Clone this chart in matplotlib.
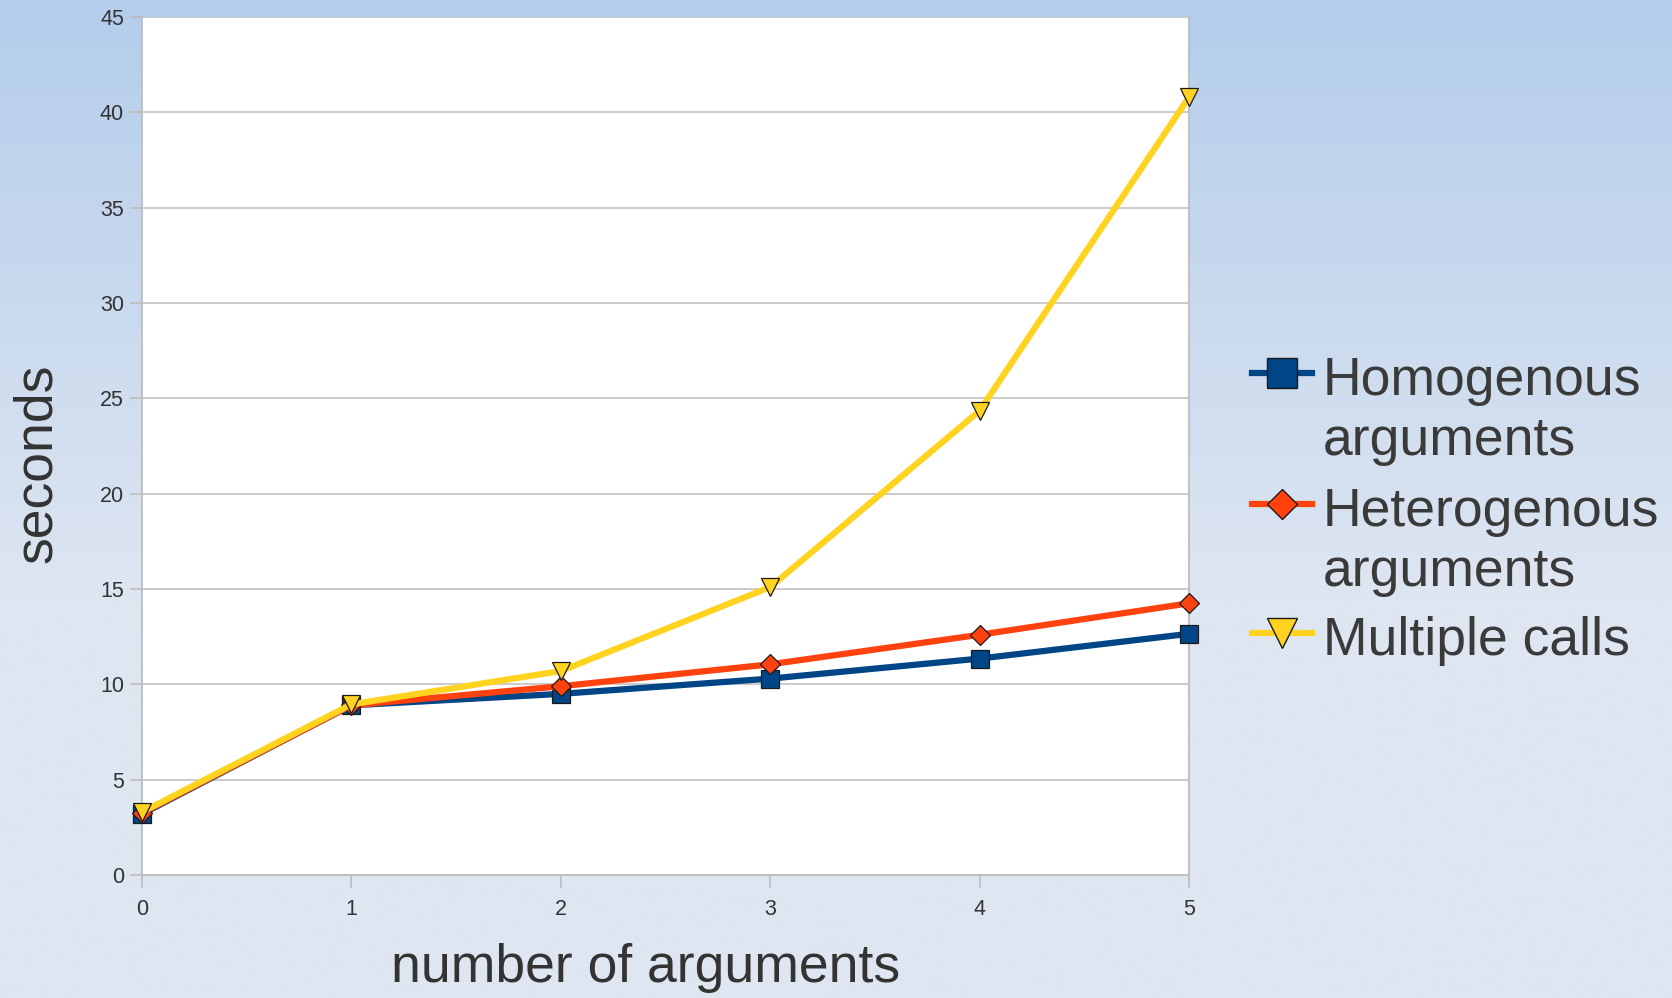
import numpy as np
import matplotlib
matplotlib.use('Agg')
import matplotlib.pyplot as plt
from matplotlib.lines import Line2D

plt.rcParams['font.family'] = ['Liberation Sans', 'DejaVu Sans']

# data
n_args = [0, 1, 2, 3, 4, 5]
homogenous = [3.2, 8.9, 9.5, 10.3, 11.35, 12.65]
heterogenous = [3.25, 8.9, 9.9, 11.05, 12.6, 14.25]
multiple = [3.3, 8.95, 10.7, 15.1, 24.35, 40.8]
labels = ['Homogenous\narguments', 'Heterogenous\narguments', 'Multiple calls']
colors = ['#004586', '#ff420e', '#ffd320']
markers = ['s', 'D', 'v']
msizes = [13.5, 9.8, 13.5]
leg_msizes = [21.5, 15.3, 21.5]

W, H = 1672, 998
fig = plt.figure(figsize=(W / 100, H / 100), dpi=100)

# background gradient (blue at top fading to pale grey-blue)
bg = fig.add_axes([0, 0, 1, 1], zorder=-10)
t = np.linspace(0, 1, 400)
top = np.array([180, 205, 235]) / 255.0
bot = np.array([222, 230, 241]) / 255.0
f = np.clip(t / 0.6, 0, 1)[:, None]
grad = top * (1 - f) + bot * f
bg.imshow(grad[:, None, :], aspect='auto', extent=[0, 1, 0, 1])
bg.axis('off')

ax = fig.add_axes([142 / W, 1 - 875 / H, (1189 - 142) / W, (875 - 17) / H])
ax.set_facecolor('white')

series = [homogenous, heterogenous, multiple]
for i, ys in enumerate(series):
    ax.plot(n_args, ys, color=colors[i], lw=4.5, marker=markers[i],
            ms=msizes[i], mfc=colors[i], mec='#1a1a1a', mew=0.9,
            clip_on=False, zorder=3 + i)

ax.set_xlim(0, 5)
ax.set_ylim(0, 45)
ax.set_xticks(range(0, 6))
ax.set_yticks(range(0, 46, 5))
ax.yaxis.grid(True, color='#bdbdbd', lw=1.1)
ax.set_axisbelow(True)
for s in ax.spines.values():
    s.set_color('#bdbdbd')
    s.set_linewidth(1.3)
ax.spines['top'].set_visible(False)
ax.tick_params(axis='both', direction='out', length=9, width=1.2,
               color='#bdbdbd', labelsize=15.5, labelcolor='#333333')
ax.tick_params(axis='x', pad=8)
ax.tick_params(axis='y', pad=4)

fig.text(646 / W, 1 - 968 / H, 'number of arguments', fontsize=38.5,
         color='#333333', ha='center', va='center')
fig.text(37 / W, 1 - 463 / H, 'seconds', fontsize=38.5, color='#333333',
         ha='center', va='center', rotation=90)

# legend drawn by hand so the marker sits on the first text line
rows = [373, 504, 633]
for i in range(3):
    yf = 1 - rows[i] / H
    fig.add_artist(Line2D([1252 / W, 1312 / W], [yf, yf], color=colors[i],
                          lw=4.5, transform=fig.transFigure))
    fig.add_artist(Line2D([1282 / W], [yf], color=colors[i], marker=markers[i],
                          ms=leg_msizes[i], mfc=colors[i], mec='#1a1a1a',
                          mew=1.0, transform=fig.transFigure))
    for j, line in enumerate(labels[i].split('\n')):
        base = rows[i] + 22 + 60 * j
        fig.text(1323 / W, 1 - base / H, line, fontsize=38.5, color='#3a3a3a',
                 ha='left', va='baseline')

fig.savefig('out.png', dpi=100)
